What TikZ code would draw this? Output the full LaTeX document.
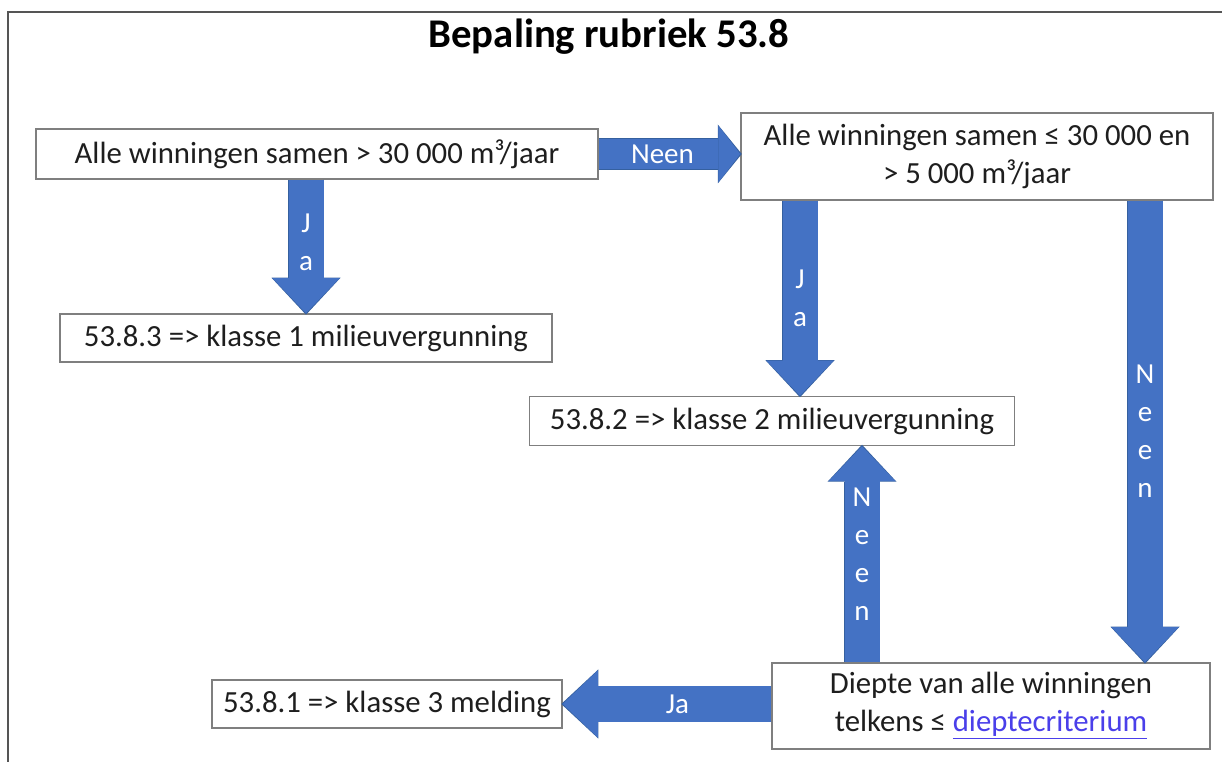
\documentclass[tikz,border=0pt]{standalone}
\usepackage{fontspec}
\setmainfont{Carlito}
\usetikzlibrary{arrows.meta}

\definecolor{pijlblauw}{HTML}{4472C4}
\definecolor{pijlrand}{HTML}{35609F}
\definecolor{vakrand}{HTML}{7F7F7F}
\definecolor{kaderlijn}{HTML}{555555}
\definecolor{tekstgrijs}{HTML}{1E1E1E}
\definecolor{linkblauw}{HTML}{4A3FEA}

\begin{document}
\begin{tikzpicture}[
  x=0.2mm, y=-0.2mm,
  vak/.style={draw=vakrand, line width=0.3mm, fill=white, align=center, inner sep=0pt,
    text=tekstgrijs, font=\fontsize{17.5}{21.6}\selectfont},
  pijl/.style={draw=pijlblauw, line width=7mm,
    -{Triangle[length=7mm, width=13.4mm, line width=0pt]},
    preaction={draw=pijlrand, line width=7.3mm,
      -{Triangle[length=7.4mm, width=13.8mm, line width=0pt]}, shorten >=-0.3mm}},
  smalpijl/.style={draw=pijlblauw, line width=6mm,
    -{Triangle[length=4.4mm, width=11.4mm, line width=0pt]},
    preaction={draw=pijlrand, line width=6.3mm,
      -{Triangle[length=4.8mm, width=11.8mm, line width=0pt]}, shorten >=-0.3mm}},
  pijltekst/.style={text=white, align=center, font=\fontsize{16.5}{21.6}\selectfont}
]
\useasboundingbox (0,0) rectangle (1222,762);

% kader rond de figuur
\draw[kaderlijn, line width=0.55mm] (8,762) -- (8,12) -- (1222,12);

\node[font=\bfseries\fontsize{23.2}{28}\selectfont] (titel) at (609,37) {Bepaling rubriek 53.8};

% beslissingen en uitkomsten
\node[vak, minimum width=112.4mm, minimum height=10mm] (totaal) at (317,154)
  {Alle winningen samen > 30 000 m³/jaar};
\node[vak, minimum width=94.4mm, minimum height=17.4mm] (tussen) at (977,156.5)
  {Alle winningen samen ≤ 30 000 en\\> 5 000 m³/jaar};
\node[vak, minimum width=98.4mm, minimum height=9.6mm] (klasse1) at (306,338)
  {53.8.3 => klasse 1 milieuvergunning};
\node[vak, minimum width=97mm, minimum height=9.8mm] (klasse2) at (772,421)
  {53.8.2 => klasse 2 milieuvergunning};
\node[vak, minimum width=70mm, minimum height=9.6mm] (klasse3) at (387,704)
  {53.8.1 => klasse 3 melding};
\node[vak, minimum width=87.6mm, minimum height=17.2mm] (diepte) at (991,706)
  {Diepte van alle winningen\\telkens ≤ \textcolor{linkblauw}{\underline{dieptecriterium}}};

% blokpijlen
\draw[smalpijl] (totaal.east) -- (totaal.east -| tussen.west)
  node[pijltekst, pos=0.45] {Neen};
\draw[pijl] (klasse1.north |- totaal.south) -- (klasse1.north)
  node[pijltekst, midway, yshift=0.8mm] {J\\a};
\draw[pijl] ([xshift=5.6mm]klasse2.north |- tussen.south) -- ([xshift=5.6mm]klasse2.north)
  node[pijltekst, midway] {J\\a};
\draw[pijl] ([xshift=30.8mm]diepte.north |- tussen.south) -- ([xshift=30.8mm]diepte.north)
  node[pijltekst, midway] {N\\e\\e\\n};
\draw[pijl] ([xshift=18mm]klasse2.south |- diepte.north) -- ([xshift=18mm]klasse2.south)
  node[pijltekst, midway] {N\\e\\e\\n};
\draw[pijl] (diepte.west |- klasse3.east) -- (klasse3.east)
  node[pijltekst, pos=0.45] {Ja};
\end{tikzpicture}
\end{document}
